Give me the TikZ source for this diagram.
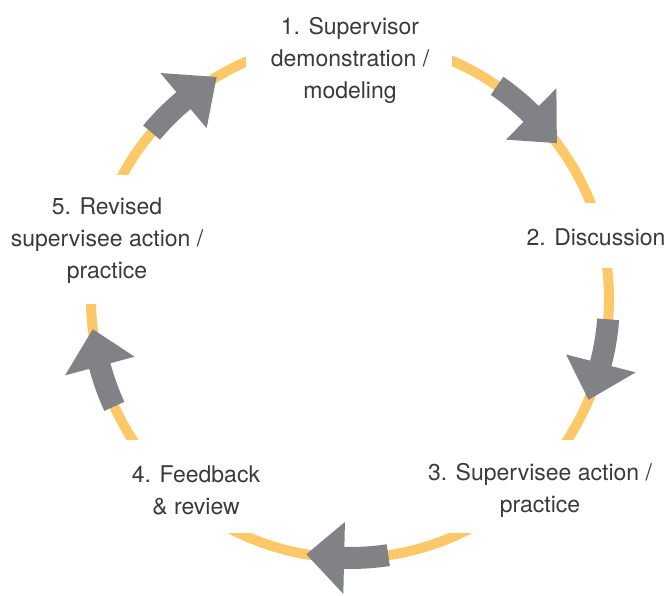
\documentclass[tikz,border=0pt]{standalone}
\usepackage{fontspec}
\setmainfont{TeX Gyre Heros}
\definecolor{ringcol}{HTML}{FDC867}
\definecolor{arrowgray}{HTML}{808285}
\definecolor{txtcol}{HTML}{3A3A3A}
\newcommand\cycarrow[3]{%
  \fill[arrowgray,shift={(350,296)}]
    (#1:248pt) arc[start angle=#1, end angle=#2, radius=248pt]
    -- (#2:223pt) -- (#3:259pt) -- (#2:295pt) -- (#2:270pt)
    arc[start angle=#2, end angle=#1, radius=270pt] -- cycle;}
\tikzset{lbl/.style={align=center, text=txtcol, font=\fontsize{23}{32}\selectfont, inner sep=0pt}}
\begin{document}
\begin{tikzpicture}[x=1pt,y=1pt]
\useasboundingbox (0,0) rectangle (666,595);
\coordinate (c) at (350,296);
\begin{scope}[even odd rule]
\clip (0,0) rectangle (666,595)
  (246,485) rectangle (452,595)
  (540,327) rectangle (666,392)
  (420,62) rectangle (666,155)
  (0,62) rectangle (280,155)
  (0,291) rectangle (200,420);
\draw[ringcol, line width=10pt] (c) circle[radius=259pt];
\end{scope}
\cycarrow{140}{130}{121}
\cycarrow{55.4}{45.6}{37}
\cycarrow{-4.5}{-14.4}{-22.9}
\cycarrow{-81.5}{-91.3}{-99.7}
\cycarrow{204.5}{195}{186.7}
\node[lbl] (l1) at (350,535) {1. Supervisor\\demonstration /\\modeling};
\node[lbl] (l2) at (596,358) {2. Discussion};
\node[lbl] (l3) at (540,105) {3. Supervisee action /\\practice};
\node[lbl] (l4) at (196,105) {4. Feedback\\\& review};
\node[lbl] (l5) at (107,354) {5. Revised\\supervisee action /\\practice};
\end{tikzpicture}
\end{document}
